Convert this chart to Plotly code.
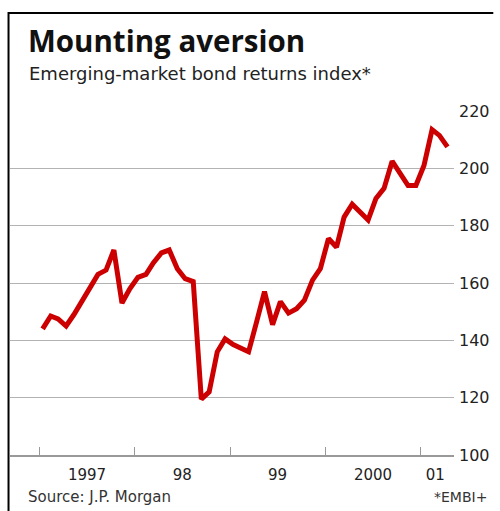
import plotly.graph_objects as go

# Monthly EMBI+ index values, Jan 1997 .. Apr 2001
dates = [f"{1997 + i // 12}-{i % 12 + 1:02d}-13" for i in range(52)]
values = [144, 148.5, 147.5, 145, 149, 153.5, 158, 163, 164.5, 171.5, 153, 158,
          162, 163, 167, 170.5, 171.5, 165, 161.5, 160.5, 119.5, 122, 136, 140.5,
          138.5, 137, 136, 146.5, 157, 145.5, 153.5, 149.5, 151, 154, 161, 165,
          175.5, 172.5, 183, 187.5, 185, 182, 189.5, 193, 202.5, 198, 194, 194,
          201, 213.5, 211.5, 207.5]

year_ticks = ["1997-01-01", "1998-01-01", "1999-01-01", "2000-01-01", "2001-01-01"]
label_pos = ["1997-07-02", "1998-07-02", "1999-07-02", "2000-07-02", "2001-02-25"]
label_text = ["1997", "98", "99", "2000", "01"]
y_ticks = [100, 120, 140, 160, 180, 200, 220]

FONT = "DejaVu Sans"
L, R, T, B = 10, 38, 111, 56
W, H = 500, 511
PW, PH = W - L - R, H - T - B

def px(x):
    return (x - L) / PW

def py(y):
    return (H - B - y) / PH

fig = go.Figure()
fig.add_trace(go.Scatter(x=dates, y=values, mode="lines",
                         line=dict(color="#cc0000", width=5), hoverinfo="skip"))

fig.update_layout(
    width=W, height=H,
    margin=dict(l=L, r=R, t=T, b=B),
    paper_bgcolor="white", plot_bgcolor="white",
    showlegend=False,
    font=dict(family=FONT, color="#222"),
    xaxis=dict(
        type="date", range=["1996-09-10", "2001-05-08"],
        tickvals=label_pos, ticktext=label_text, ticks="",
        tickfont=dict(size=15, color="#222"),
        showgrid=False, zeroline=False,
        showline=True, linecolor="#999", linewidth=1.5,
        minor=dict(tickmode="array", tickvals=year_ticks, ticks="inside",
                   ticklen=8, tickcolor="#999", tickwidth=1, showgrid=False),
        ticklabelstandoff=5,
    ),
    yaxis=dict(
        range=[100, 220], tickvals=y_ticks, side="right",
        showgrid=True, gridcolor="#b3b3b3", gridwidth=1.2,
        zeroline=False, showline=False, ticks="",
        tickfont=dict(size=16, color="#222"),
        ticklabelstandoff=4,
    ),
)

fig.add_annotation(text="<b>Mounting aversion</b>", xref="paper", yref="paper",
                   x=px(26), y=py(40), xanchor="left", yanchor="middle",
                   showarrow=False, font=dict(size=29.5, color="#111", family="Open Sans"))
fig.add_annotation(text="Emerging-market bond returns index*", xref="paper", yref="paper",
                   x=px(27), y=py(73), xanchor="left", yanchor="middle",
                   showarrow=False, font=dict(size=18, color="#222", family=FONT))
fig.add_annotation(text="Source: J.P. Morgan", xref="paper", yref="paper",
                   x=px(26), y=py(497), xanchor="left", yanchor="middle",
                   showarrow=False, font=dict(size=15, color="#333", family=FONT))
fig.add_annotation(text="*EMBI+", xref="paper", yref="paper",
                   x=px(498), y=py(497), xanchor="right", yanchor="middle",
                   showarrow=False, font=dict(size=14, color="#333", family=FONT))

fig.add_shape(type="line", xref="paper", yref="paper",
              x0=px(8), x1=px(502), y0=py(13), y1=py(13),
              line=dict(color="black", width=2))
fig.add_shape(type="line", xref="paper", yref="paper",
              x0=px(8.5), x1=px(8.5), y0=py(12), y1=py(515),
              line=dict(color="black", width=2))

fig.write_html("out.html")
